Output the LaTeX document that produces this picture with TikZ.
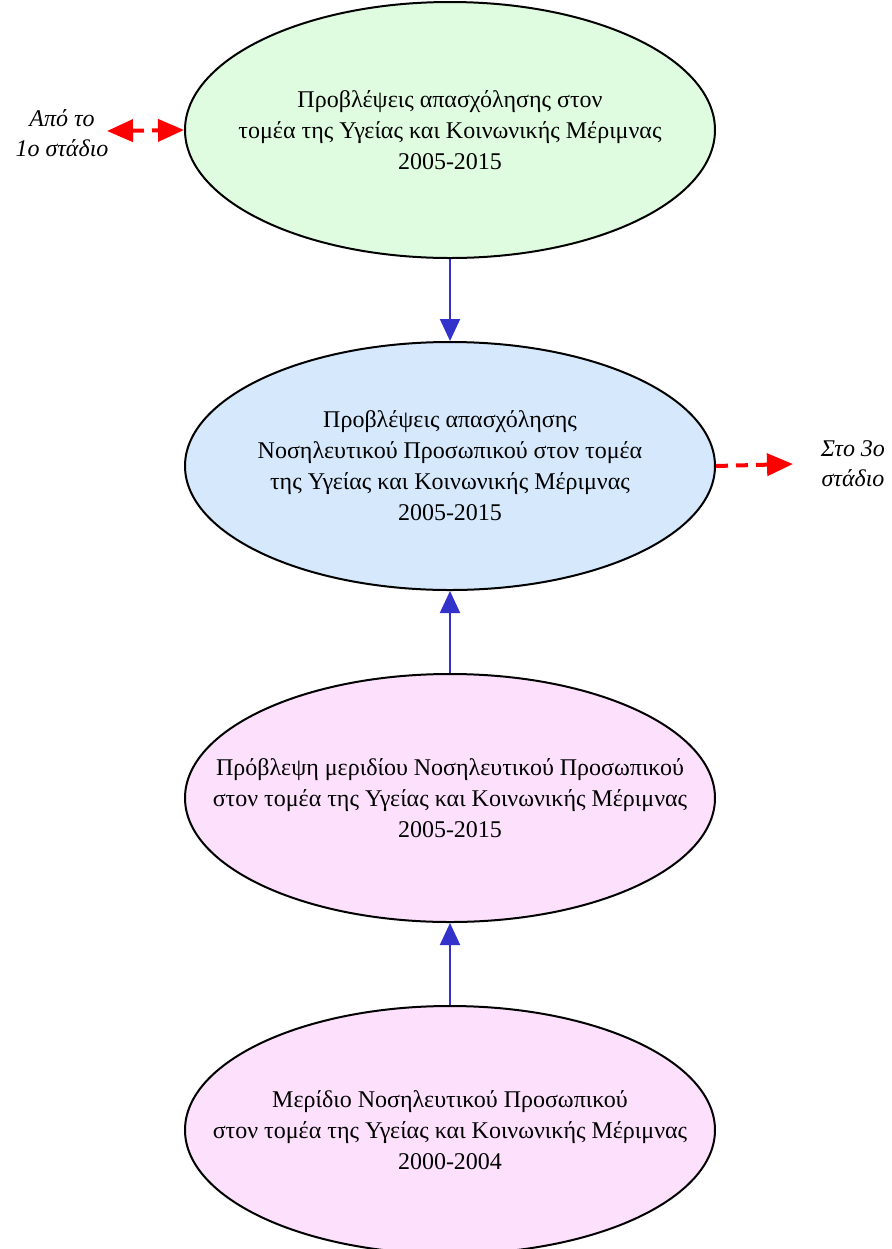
\documentclass[tikz,border=0pt]{standalone}
\usepackage{fontspec}
\setmainfont{Liberation Serif}
\usetikzlibrary{positioning, arrows.meta, shapes.geometric}

\definecolor{ellgreen}{RGB}{224,252,224}
\definecolor{ellblue}{RGB}{213,232,252}
\definecolor{ellpink}{RGB}{252,224,252}
\definecolor{linkblue}{RGB}{51,51,204}

\begin{document}
\begin{tikzpicture}[
  node distance = 41pt,
  every node/.style = {align=center, font=\fontsize{12}{15.5}\selectfont},
  stage/.style = {draw, ellipse, line width=1pt, inner xsep=-30pt, inner ysep=0pt, minimum width=265pt, minimum height=124pt},
  link/.style = {-{Triangle[length=11pt, width=10pt]}, line width=1pt, draw=linkblue},
  jump/.style = {line width=2pt, draw=red, dash pattern=on 6pt off 4pt},
  redtip/.style = {-{Triangle[length=13pt, width=11pt]}},
  redtips/.style = {{Triangle[length=13pt, width=11pt]}-{Triangle[length=13pt, width=11pt]}},
  side/.style = {font=\fontsize{12}{15}\selectfont\itshape}
]
\useasboundingbox (0,0) rectangle (445.5pt,-624.5pt);

% --- stages
\node[stage, fill=ellgreen, minimum height=128pt] (jobs) at (225pt,-65pt) {Προβλέψεις απασχόλησης στον \\ τομέα της Υγείας και Κοινωνικής Μέριμνας \\ 2005-2015};
\node[stage, fill=ellblue, below=of jobs] (nurses) {Προβλέψεις απασχόλησης \\ Νοσηλευτικού Προσωπικού στον τομέα \\ της Υγείας και Κοινωνικής Μέριμνας \\ 2005-2015};
\node[stage, fill=ellpink, below=of nurses] (share) {Πρόβλεψη μεριδίου Νοσηλευτικού Προσωπικού \\ στον τομέα της Υγείας και Κοινωνικής Μέριμνας \\ 2005-2015};
\node[stage, fill=ellpink, below=of share] (past) {Μερίδιο Νοσηλευτικού Προσωπικού \\ στον τομέα της Υγείας και Κοινωνικής Μέριμνας \\ 2000-2004};

\draw[link] (jobs) -- (nurses);
\draw[link] (share) -- (nurses);
\draw[link] (past) -- (share);

% --- other stages
\node[side] (from1) at (31pt,-66.5pt) {Από το \\ 1ο στάδιο};
\node[side] (to3) at (426.5pt,-232pt) {Στο 3ο \\ στάδιο};
\coordinate (fromend) at (53.5pt,-65.5pt);
\coordinate (toend) at (396.5pt,-232pt);

\draw[jump, redtips] (fromend) -- (jobs.west);
\draw[jump, redtip] (nurses.east) -- (toend);

\end{tikzpicture}
\end{document}
